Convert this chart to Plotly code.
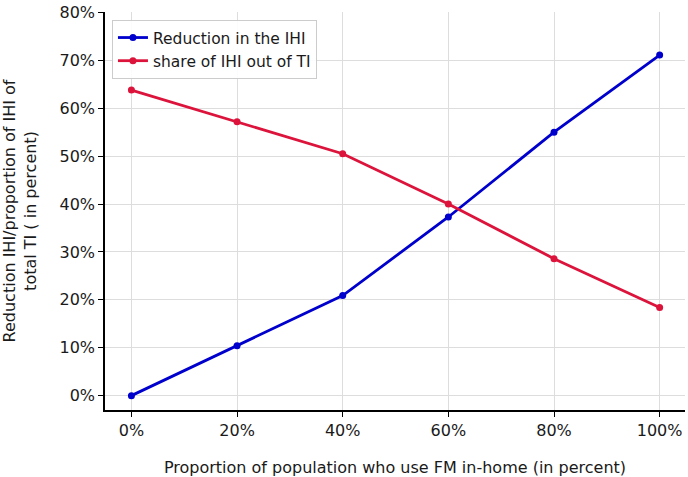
import plotly.graph_objects as go

x_vals = [0, 20, 40, 60, 80, 100]
reduction_ihi = [0.0, 10.4, 20.9, 37.3, 55.0, 71.1]
share_ihi_ti = [63.8, 57.2, 50.5, 40.0, 28.6, 18.4]
x_ticks = [0, 20, 40, 60, 80, 100]
y_ticks = [0, 10, 20, 30, 40, 50, 60, 70, 80]

fig = go.Figure()
fig.add_trace(go.Scatter(x=x_vals, y=reduction_ihi, mode="lines+markers",
                         name="Reduction in the IHI",
                         line=dict(color="#0000CD", width=2.8),
                         marker=dict(color="#0000CD", size=7)))
fig.add_trace(go.Scatter(x=x_vals, y=share_ihi_ti, mode="lines+markers",
                         name="share of IHI out of TI",
                         line=dict(color="#DC143C", width=2.8),
                         marker=dict(color="#DC143C", size=7)))

fig.update_layout(
    width=688, height=477,
    margin=dict(l=105, r=3, t=5, b=67),
    plot_bgcolor="white", paper_bgcolor="white",
    font=dict(family="DejaVu Sans", size=16, color="#1a1a1a"),
    showlegend=True,
    legend=dict(x=0.012, y=0.98, xanchor="left", yanchor="top",
                bordercolor="#cccccc", borderwidth=1, bgcolor="rgba(255,255,255,0.9)",
                font=dict(size=15.5), tracegroupgap=0),
    xaxis=dict(range=[-5, 104.8], tickvals=x_ticks,
               ticktext=[f"{v}%" for v in x_ticks],
               showgrid=True, gridcolor="#dddddd", gridwidth=1,
               showline=True, linecolor="black", linewidth=1.5,
               ticks="outside", ticklen=5, tickcolor="black", zeroline=False,
               tickfont=dict(size=16), ticklabeloverflow="allow",
               title=dict(text="Proportion of population who use FM in-home (in percent)",
                          font=dict(size=16), standoff=23)),
    yaxis=dict(range=[-3, 80.1], tickvals=y_ticks,
               ticktext=[f"{v}%" for v in y_ticks],
               showgrid=True, gridcolor="#dddddd", gridwidth=1,
               showline=True, linecolor="black", linewidth=1.5,
               ticks="outside", ticklen=5, tickcolor="black", zeroline=False,
               tickfont=dict(size=16), ticklabeloverflow="allow",
               title=dict(text="Reduction IHI/proportion of IHI of<br>total TI ( in percent)",
                          font=dict(size=16), standoff=23)),
)

fig.write_html("out.html", config={"displayModeBar": False},
               post_script="document.body.style.margin='0';")
